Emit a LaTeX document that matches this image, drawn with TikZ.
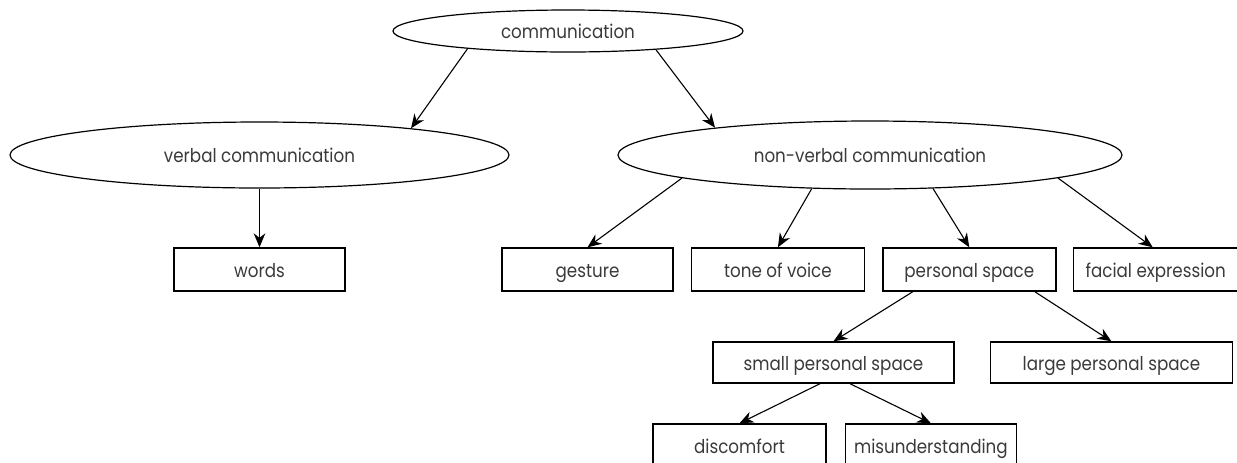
\documentclass[tikz,border=0pt]{standalone}
\usepackage{fontspec}
\setmainfont{Poppins}[FakeStretch=0.88]
\usepackage{tikz}
\usetikzlibrary{positioning,shapes.geometric,arrows.meta}
\usepackage{xcolor}
\definecolor{inkgray}{RGB}{58,58,58}

\begin{document}
\begin{tikzpicture}[
    x=0.5pt, y=-0.5pt,
    node distance=8.5pt and 8.5pt,
    font=\fontsize{9.5}{11}\selectfont,
    concept/.style={ellipse, draw=black, line width=0.6pt, text=inkgray, inner sep=0pt, text height=8.4pt, text depth=1pt},
    item/.style={rectangle, draw=black, line width=0.7pt, text=inkgray, minimum width=86pt, minimum height=21.5pt, inner sep=0pt, text height=9pt, text depth=0.8pt},
    wideitem/.style={item, minimum width=120.5pt, minimum height=20.5pt},
    line/.style={draw=black, line width=0.55pt, -{Stealth[length=7pt,width=5.8pt]}}
]
    \useasboundingbox (0,0) rectangle (1237,462);

    % ellipses
    \node [concept, minimum width=175pt, minimum height=21pt] (comm) at (568,31) {communication};
    \node [concept, minimum width=249.5pt, minimum height=33pt] (verbal) at (259.5,155) {verbal communication};
    \node [concept, minimum width=252pt, minimum height=34pt] (nonverbal) at (870,155) {non-verbal communication};

    % first row
    \node [item, minimum width=85.5pt] (words) at (259.5,269.5) {words};
    \node [item, minimum width=85.5pt] (gesture) at (587.5,269.5) {gesture};
    \node [item, minimum width=86.5pt, right=of gesture] (tone) {tone of voice};
    \node [item, minimum width=86.5pt, right=of tone] (personal) {personal space};
    \node [item, minimum width=82.5pt, right=8pt of personal] (facial) {facial expression};

    % second row
    \node [wideitem] (small) at (833.5,362.5) {small personal space};
    \node [wideitem, minimum width=121pt, right=17.5pt of small] (large) {large personal space};

    % third row
    \node [item, minimum width=86.5pt, minimum height=21pt] (discomfort) at (739.5,445) {discomfort};
    \node [item, minimum width=85.5pt, minimum height=21pt, right=9pt of discomfort] (misunder) {misunderstanding};

    \path [line] (comm.190) -- (verbal.10);
    \path [line] (comm.348) -- (nonverbal.170);
    \path [line] (verbal.south) -- (words.north);
    \path [line] (nonverbal.187) -- (gesture.north);
    \path [line] (nonverbal.210) -- (tone.north);
    \path [line] (nonverbal.332) -- (personal.north);
    \path [line] (nonverbal.353) -- ([xshift=-1.5pt]facial.north);
    \path [line] ([xshift=-28.25pt]personal.south) -- (small.north);
    \path [line] ([xshift=32.75pt]personal.south) -- (large.north);
    \path [line] ([xshift=-6.75pt]small.south) -- (discomfort.north);
    \path [line] ([xshift=8.25pt]small.south) -- (misunder.north);
\end{tikzpicture}
\end{document}
